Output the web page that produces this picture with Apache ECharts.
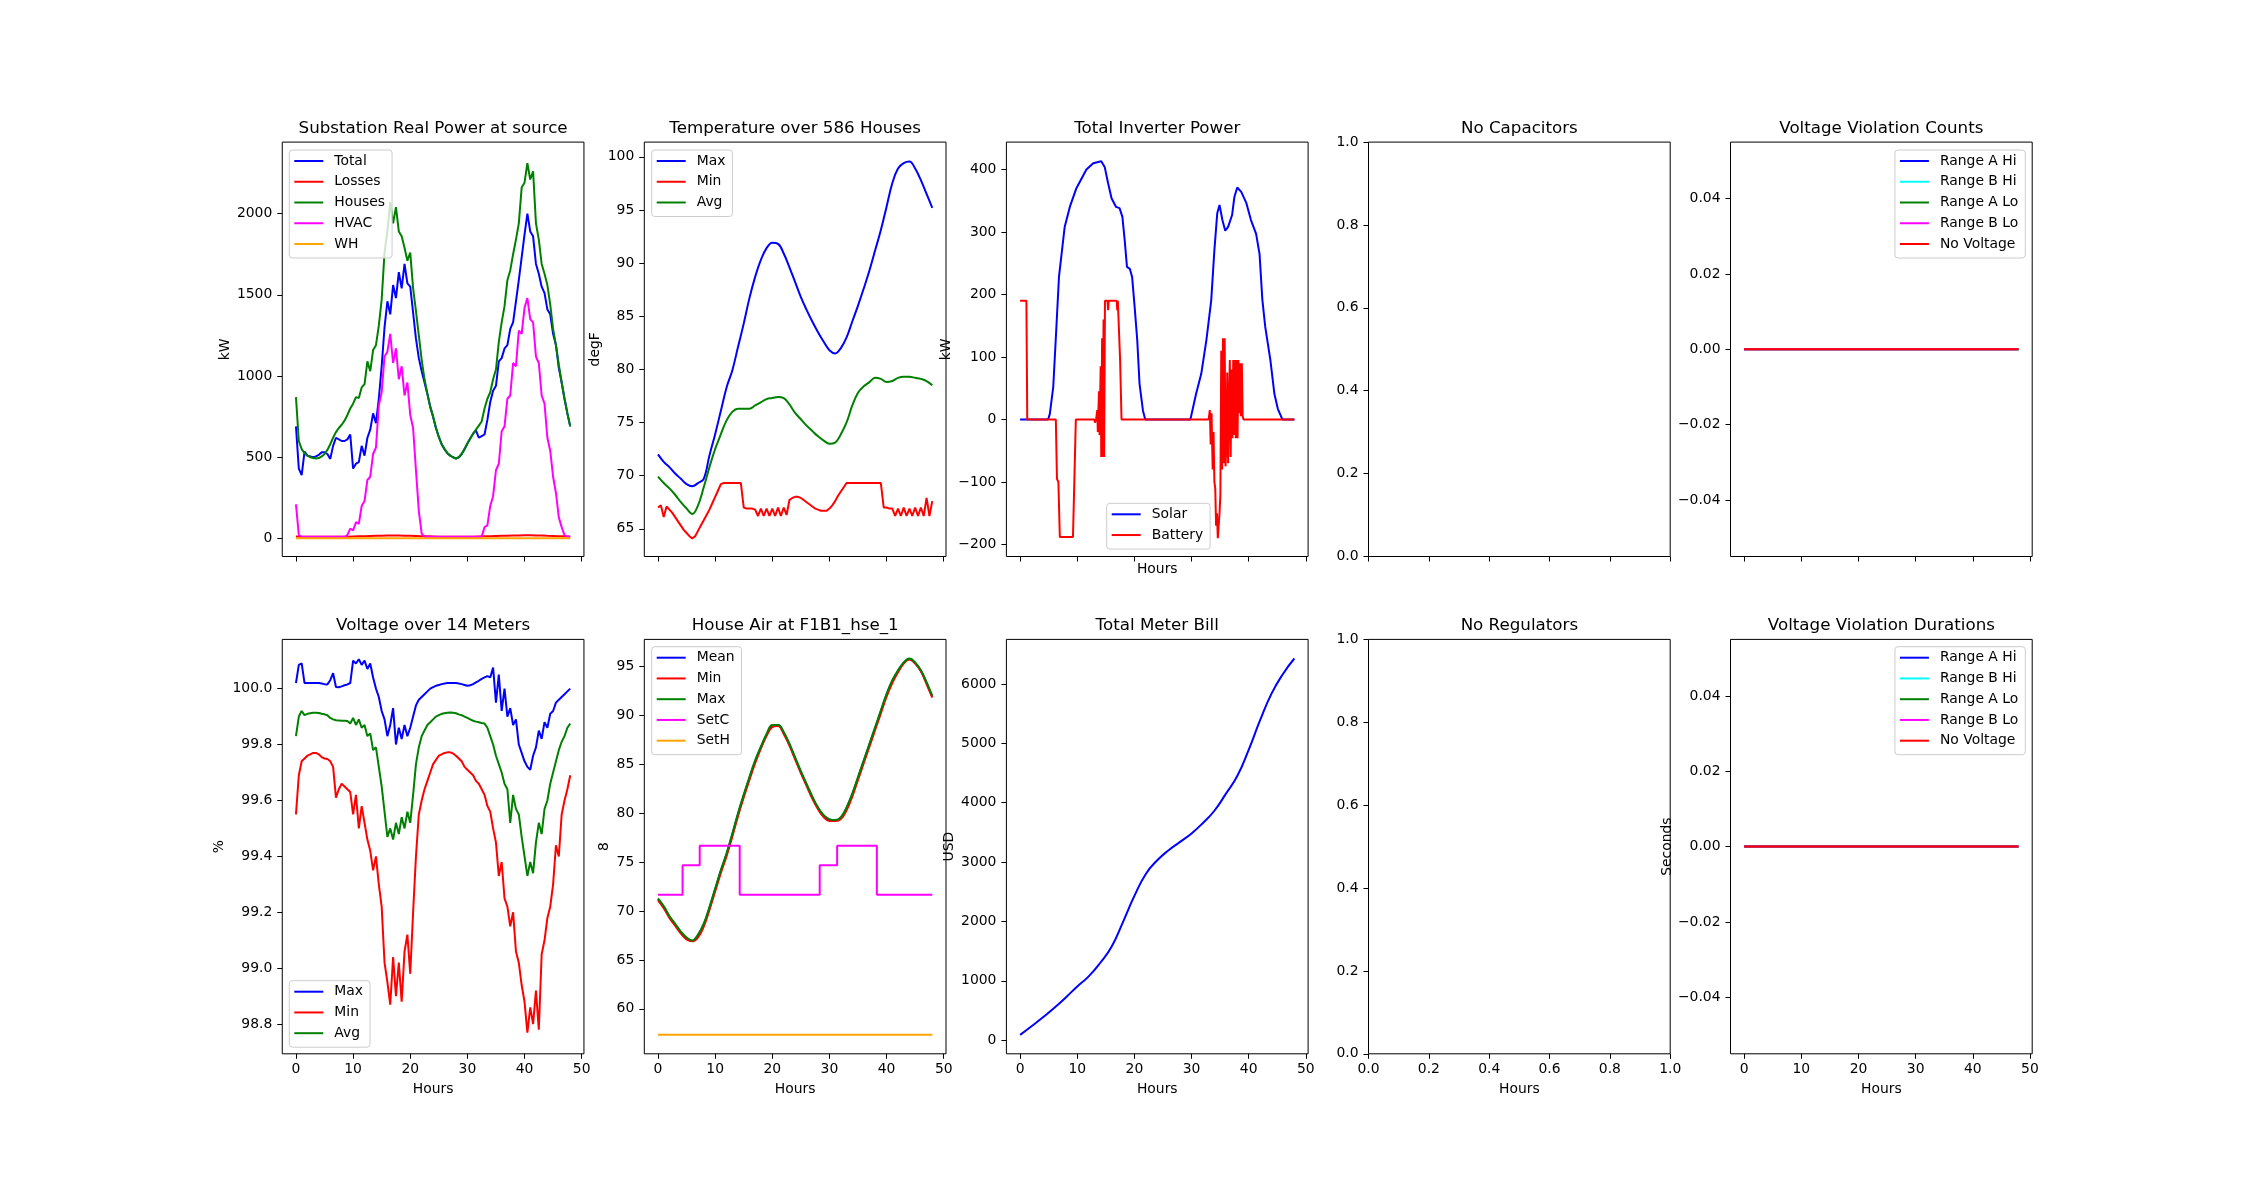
<!DOCTYPE html>
<html>
<head>
<meta charset="utf-8">
<title>Feeder summary</title>
<script src="https://cdn.jsdelivr.net/npm/echarts@6/dist/echarts.min.js"></script>
<style>
  html, body { margin: 0; padding: 0; background: #fff; }
  #chart { width: 2258px; height: 1184px; }
</style>
</head>
<body>
<div id="chart"></div>
<script>
  // ---- time grids (hours) ----
  var halfHours = [];
  for (var i = 0; i <= 96; i++) halfHours.push(i / 2);
  var hours = [];
  for (i = 0; i <= 48; i++) hours.push(i);
  var twoHours = [];
  for (i = 0; i <= 24; i++) twoHours.push(i * 2);

  // ---- Substation Real Power at source (kW, every 0.5 h) ----
  var subTotal = [690,430,390,535,510,505,500,505,515,530,530,520,490,570,620,610,600,600,610,640,
    430,460,470,570,510,620,670,770,710,860,1060,1300,1460,1380,1560,1480,1640,1540,1690,1570,
    1550,1390,1230,1110,1030,960,890,810,750,680,625,580,550,525,510,500,492,500,520,550,
    585,615,645,665,620,630,640,730,840,910,940,1090,1110,1170,1190,1290,1330,1460,1590,1730,
    1870,2000,1890,1860,1690,1630,1550,1510,1410,1380,1260,1190,1050,960,860,770,690];
  var subLosses = [12,11,10,10,10,10,10,10,10,11,12,13,14,15,16,17,18,18,18,17,16,15,14,13,12,
    11,10,10,10,10,10,11,12,13,14,15,16,17,18,19,20,20,19,18,16,15,14,13,12];
  var subHouses = [870,600,550,525,510,500,495,492,495,505,520,545,580,620,655,680,700,725,760,800,
    830,870,865,930,950,1090,1030,1160,1190,1310,1470,1760,1890,2070,1940,2040,1890,1860,1790,1710,
    1760,1540,1400,1250,1100,980,890,810,750,680,625,580,550,525,510,500,492,500,520,550,
    585,615,645,670,695,720,800,860,900,980,1040,1210,1330,1430,1590,1650,1750,1840,1940,2160,
    2190,2310,2210,2260,1940,1840,1690,1630,1560,1440,1290,1190,1070,960,860,770,690];
  var subHvac = [210,20,10,10,10,10,10,10,10,10,10,10,10,10,10,10,10,10,20,60,
    50,100,90,200,230,360,380,520,560,820,900,1120,1150,1260,1080,1170,980,1060,880,960,
    760,680,420,170,30,10,10,10,10,10,10,10,10,10,10,10,10,10,10,10,
    10,10,10,10,10,10,70,80,200,260,420,460,660,690,860,880,1080,1060,1280,1260,
    1420,1480,1350,1330,1120,1080,880,830,620,540,380,280,130,70,20,10,10];
  var subWh = [2,2,2,2,2,2,2,2,2,2,2,2,2,2,2,2,2,2,2,2,2,2,2,2,2,
    2,2,2,2,2,2,2,2,2,2,2,2,2,2,2,2,2,2,2,2,2,2,2,2];

  // ---- Temperature over 586 Houses (degF) ----
  var tempMax = [72.0,71.3,70.8,70.2,69.7,69.2,69.0,69.3,69.7,71.9,73.9,76.1,78.3,79.9,82.1,84.3,86.7,88.7,90.3,91.4,
    91.9,91.8,90.9,89.6,88.2,86.8,85.6,84.5,83.5,82.6,81.8,81.5,82.0,83.0,84.5,86.0,87.6,89.3,91.2,93.1,
    95.3,97.5,98.9,99.4,99.55,98.9,97.8,96.5,95.2];
  var tempAvg = [69.9,69.3,68.8,68.2,67.5,66.9,66.4,67.2,68.9,70.8,72.5,73.9,75.2,76.0,76.3,76.3,76.3,76.6,76.9,77.2,
    77.3,77.4,77.3,76.7,75.9,75.3,74.7,74.2,73.7,73.3,73.0,73.1,73.9,75.0,76.6,77.8,78.4,78.8,79.2,79.1,
    78.8,78.9,79.2,79.3,79.3,79.2,79.1,78.9,78.5];
  var tempMin = [67.0,67.2,66.1,67.1,66.8,66.5,66.1,65.7,65.3,64.9,64.6,64.3,64.1,64.3,64.8,65.3,65.8,66.3,66.8,67.4,
    68.0,68.6,69.2,69.3,69.3,69.3,69.3,69.3,69.3,69.3,67.0,66.9,66.9,66.9,66.8,66.2,66.9,66.2,66.9,66.2,
    66.9,66.2,67.0,66.2,67.0,66.3,67.7,67.9,68.0,68.0,67.9,67.7,67.5,67.3,67.1,66.9,66.8,66.7,66.7,66.7,
    66.9,67.2,67.6,68.1,68.5,68.9,69.3,69.3,69.3,69.3,69.3,69.3,69.3,69.3,69.3,69.3,69.3,69.3,69.3,67.0,
    67.0,66.9,66.9,66.2,66.9,66.2,67.0,66.2,66.9,66.2,67.0,66.2,67.0,66.2,67.9,66.2,67.6];

  // ---- Total Inverter Power (kW) as [hour, value] ----
  var solarKw = [[0,0],[4.9,0],[5.2,9],[5.8,52],[6.35,148],[6.8,228],[7.8,308],[8.7,340],[9.85,370],[11.6,400],
    [12.8,410],[14.2,413],[14.5,410],[14.8,404],[15.4,378],[16.0,354],[16.8,340],[17.4,338],[17.9,324],[18.3,287],
    [18.7,244],[19.2,241],[19.6,228],[20.0,185],[20.5,127],[20.9,57],[21.5,14],[21.9,0],[29.8,0],[30.8,41],
    [31.7,73],[32.6,127],[33.45,191],[34.0,271],[34.5,330],[34.9,343],[35.4,319],[35.9,302],[36.4,308],[37.1,327],
    [37.5,356],[38.0,371],[38.7,364],[39.6,346],[40.4,319],[41.3,297],[41.9,265],[42.4,191],[42.9,148],[43.8,95],
    [44.5,41],[45.1,17],[45.9,0],[48,0]];
  var batteryKw = [[0,190],[1.1,190],[1.25,0],[6.25,0],[6.45,-95],[6.7,-100],[6.95,-188],[9.25,-188],[9.5,-95],[9.75,0],
    [13.0,0],[13.1,-5],[13.3,0],[13.5,15],[13.6,-20],[13.8,45],[13.9,-25],[14.1,85],[14.2,-60],[14.35,130],
    [14.45,-60],[14.6,160],[14.7,-60],[14.85,190],[15.3,190],[15.4,175],[15.5,190],[16.9,190],[17.0,175],[17.1,190],
    [17.4,190],[17.5,95],[17.75,0],[33.0,0],[33.2,15],[33.35,-40],[33.5,10],[33.7,-80],[33.85,-20],[34.0,-100],
    [34.15,-110],[34.3,-170],[34.45,-150],[34.6,-190],[34.75,-190],[34.9,-150],[35.05,-120],[35.2,110],[35.35,-80],[35.5,130],
    [35.65,-70],[35.8,130],[35.95,-75],[36.1,-40],[36.25,75],[36.4,-70],[36.55,20],[36.7,95],[36.85,-60],[37.0,80],
    [37.15,-30],[37.3,95],[37.45,-25],[37.6,95],[37.75,-30],[37.9,95],[38.05,-30],[38.2,95],[38.35,10],[38.5,90],
    [38.65,5],[38.8,90],[38.95,5],[39.1,0],[48,0]];

  // ---- Voltage over 14 Meters (%, every 0.5 h) ----
  var voltMax = [100.02,100.085,100.09,100.02,100.02,100.02,100.02,100.02,100.02,100.018,100.016,100.015,100.03,100.055,100.006,100.005,100.008,100.012,100.015,100.02,
    100.10,100.09,100.105,100.085,100.10,100.07,100.09,100.04,100.0,99.97,99.92,99.89,99.83,99.87,99.93,99.80,99.86,99.82,99.87,99.83,
    99.86,99.90,99.94,99.96,99.97,99.98,99.99,100.0,100.005,100.01,100.013,100.016,100.018,100.02,100.02,100.02,100.02,100.018,100.016,100.013,
    100.01,100.012,100.016,100.022,100.028,100.035,100.04,100.045,100.04,100.075,99.95,100.05,99.92,100.0,99.90,99.93,99.87,99.89,99.80,99.77,
    99.74,99.72,99.71,99.76,99.79,99.85,99.82,99.88,99.86,99.91,99.92,99.95,99.96,99.97,99.98,99.99,100.0];
  var voltMin = [99.55,99.69,99.74,99.75,99.76,99.765,99.77,99.77,99.765,99.755,99.75,99.748,99.74,99.72,99.61,99.64,99.66,99.65,99.64,99.63,
    99.55,99.62,99.50,99.58,99.52,99.46,99.42,99.35,99.40,99.30,99.22,99.02,98.95,98.87,99.04,98.90,99.02,98.88,99.06,99.12,
    98.98,99.20,99.40,99.55,99.60,99.64,99.67,99.70,99.73,99.745,99.76,99.765,99.77,99.772,99.772,99.768,99.76,99.75,99.74,99.72,
    99.71,99.70,99.69,99.67,99.66,99.64,99.62,99.58,99.56,99.50,99.45,99.33,99.38,99.25,99.22,99.15,99.20,99.06,99.02,98.94,
    98.88,98.77,98.86,98.80,98.92,98.78,99.05,99.10,99.18,99.22,99.30,99.44,99.40,99.55,99.60,99.64,99.69];
  var voltAvg = [99.83,99.90,99.92,99.905,99.91,99.912,99.914,99.914,99.913,99.91,99.908,99.905,99.895,99.89,99.887,99.886,99.885,99.885,99.884,99.875,
    99.895,99.87,99.89,99.86,99.87,99.83,99.84,99.78,99.79,99.72,99.65,99.56,99.47,99.50,99.46,99.52,99.48,99.54,99.50,99.56,
    99.52,99.62,99.73,99.79,99.83,99.85,99.87,99.88,99.89,99.90,99.905,99.91,99.912,99.914,99.915,99.914,99.912,99.908,99.905,99.90,
    99.895,99.89,99.885,99.882,99.88,99.877,99.875,99.86,99.83,99.80,99.76,99.73,99.70,99.66,99.64,99.52,99.62,99.57,99.55,99.47,
    99.40,99.33,99.38,99.34,99.45,99.52,99.48,99.57,99.60,99.66,99.70,99.74,99.78,99.81,99.83,99.86,99.875];

  // ---- House Air at F1B1_hse_1 (hourly) ----
  var airMean = [71.2,70.4,69.4,68.6,67.8,67.2,66.95,67.5,68.6,70.3,72.2,74.1,75.8,77.8,79.9,81.8,83.6,85.3,86.7,88.0,
    88.9,89.0,88.2,87.0,85.6,84.2,82.9,81.6,80.5,79.7,79.3,79.25,79.5,80.5,81.9,83.6,85.3,87.0,88.7,90.4,
    92.1,93.5,94.5,95.35,95.75,95.35,94.55,93.3,91.9];
  var airMin = [71.1,70.3,69.3,68.5,67.7,67.1,66.9,67.3,68.4,70.1,72.0,73.9,75.6,77.6,79.7,81.6,83.4,85.1,86.6,87.9,
    88.8,88.9,88.1,86.9,85.5,84.1,82.8,81.5,80.4,79.6,79.2,79.2,79.4,80.3,81.7,83.4,85.1,86.8,88.5,90.2,
    91.9,93.3,94.4,95.3,95.7,95.3,94.5,93.2,91.8];
  var airMax = [71.3,70.5,69.5,68.7,67.9,67.3,67.0,67.6,68.7,70.4,72.3,74.2,75.9,77.9,80.0,81.9,83.7,85.4,86.8,88.1,
    89.0,89.0,88.3,87.1,85.7,84.3,83.0,81.7,80.6,79.8,79.4,79.3,79.6,80.6,82.0,83.7,85.4,87.1,88.8,90.5,
    92.2,93.6,94.6,95.4,95.8,95.4,94.6,93.4,92.0];
  var setCool = [[0,71.67],[4.3,71.67],[4.3,74.69],[7.3,74.69],[7.3,76.67],[14.3,76.67],[14.3,71.67],[28.3,71.67],
    [28.3,74.69],[31.35,74.69],[31.35,76.67],[38.3,76.67],[38.3,71.67],[48,71.67]];
  var setHeat = [[0,57.35],[48,57.35]];

  // ---- Total Meter Bill (USD, every 2 h) ----
  var meterBill = [89,235,385,545,720,905,1075,1300,1575,1990,2430,2800,3030,3200,3340,3483,3660,3865,4150,4450,
    4890,5390,5838,6170,6430];

  // ---- Voltage violations (none) ----
  var violHours = [0, 48];
  var violCounts = [0, 0];
  var violSeconds = [0, 0];

  // ---- tick values ----
  var hourTicks = [0, 10, 20, 30, 40, 50];
  var unitTicks = [0, 0.2, 0.4, 0.6, 0.8, 1];
  var powerTicks = [0, 500, 1000, 1500, 2000];
  var tempTicks = [65, 70, 75, 80, 85, 90, 95, 100];
  var invTicks = [-200, -100, 0, 100, 200, 300, 400];
  var violTicks = [-0.04, -0.02, 0, 0.02, 0.04];
  var voltTicks = [98.8, 99.0, 99.2, 99.4, 99.6, 99.8, 100.0];
  var airTicks = [60, 65, 70, 75, 80, 85, 90, 95];
  var billTicks = [0, 1000, 2000, 3000, 4000, 5000, 6000];

  // ---- layout ----
  var FONT = 'DejaVu Sans';
  var colLeft = [282.25, 644.3, 1006.4, 1368.5, 1730.5];
  var rowTop = [142.1, 639.4];
  var plotW = 301.7, plotH = 414.4;

  var panels = [
    {title: 'Substation Real Power at source', ylabel: 'kW', ylx: 225, ymin: -111, ymax: 2440, yt: powerTicks, dec: 0},
    {title: 'Temperature over 586 Houses', ylabel: 'degF', ylx: 595.6, ymin: 62.39, ymax: 101.38, yt: tempTicks, dec: 0},
    {title: 'Total Inverter Power', ylabel: 'kW', ylx: 946, ymin: -219.2, ymax: 443.7, yt: invTicks, dec: 0, hours: 569.1},
    {title: 'No Capacitors', unit: true, ymin: 0, ymax: 1, yt: unitTicks, dec: 1},
    {title: 'Voltage Violation Counts', ymin: -0.055, ymax: 0.055, yt: violTicks, dec: 2},
    {title: 'Voltage over 14 Meters', ylabel: '%', ylx: 219.8, ymin: 98.694, ymax: 100.176, yt: voltTicks, dec: 1, hours: 1089.8},
    {title: 'House Air at F1B1_hse_1', ylabel: '8', ylx: 604, ymin: 55.41, ymax: 97.76, yt: airTicks, dec: 0, hours: 1089.8},
    {title: 'Total Meter Bill', ylabel: 'USD', ylx: 949, ymin: -230, ymax: 6752, yt: billTicks, dec: 0, hours: 1089.8},
    {title: 'No Regulators', unit: true, ymin: 0, ymax: 1, yt: unitTicks, dec: 1, hours: 1089.8},
    {title: 'Voltage Violation Durations', ylabel: 'Seconds', ylx: 1667, ymin: -0.055, ymax: 0.055, yt: violTicks, dec: 2, hours: 1089.8}
  ];

  function fmt(v, dec) {
    var s = Number(v).toFixed(dec);
    return s.charAt(0) === '-' ? '\u2212' + s.slice(1) : s;
  }
  function zip(xs, ys) {
    return xs.map(function (x, k) { return [x, ys[k]]; });
  }

  var grids = [], xAxes = [], yAxes = [], texts = [];
  panels.forEach(function (p, gi) {
    var row = gi < 5 ? 0 : 1, col = gi % 5;
    var left = colLeft[col], top = rowTop[row];
    var xt = p.unit ? unitTicks : hourTicks;
    grids.push({left: left, top: top, width: plotW, height: plotH, show: true,
      borderColor: '#000', borderWidth: 1, backgroundColor: 'transparent', containLabel: false, outerBoundsMode: 'none'});
    xAxes.push({type: 'value', gridIndex: gi,
      min: p.unit ? 0 : -2.4, max: p.unit ? 1 : 50.4,
      splitLine: {show: false}, axisLine: {show: false, onZero: false},
      axisTick: {show: true, length: 5, lineStyle: {color: '#000', width: 1}, customValues: xt},
      axisLabel: {show: row === 1, customValues: xt, margin: 9, color: '#000', fontFamily: FONT, fontSize: 13.9,
        formatter: function (v) { return fmt(v, p.unit ? 1 : 0); }}
    });
    yAxes.push({type: 'value', gridIndex: gi, min: p.ymin, max: p.ymax,
      splitLine: {show: false}, axisLine: {show: false, onZero: false},
      axisTick: {show: true, length: 5, lineStyle: {color: '#000', width: 1}, customValues: p.yt},
      axisLabel: {show: true, customValues: p.yt, margin: 10, color: '#000', fontFamily: FONT, fontSize: 13.9,
        formatter: function (v) { return fmt(v, p.dec); }}
    });
    texts.push({type: 'text', x: left + plotW / 2, y: top - 13.6, silent: true,
      style: {text: p.title, font: '16.7px "' + FONT + '"', fill: '#000',
        textAlign: 'center', textVerticalAlign: 'middle', align: 'center', verticalAlign: 'middle'}});
    if (p.ylabel) {
      texts.push({type: 'text', x: p.ylx, y: top + plotH / 2, rotation: Math.PI / 2, silent: true,
        style: {text: p.ylabel, font: '13.9px "' + FONT + '"', fill: '#000',
          textAlign: 'center', textVerticalAlign: 'middle', align: 'center', verticalAlign: 'middle'}});
    }
    if (p.hours) {
      texts.push({type: 'text', x: left + plotW / 2, y: p.hours, silent: true,
        style: {text: 'Hours', font: '13.9px "' + FONT + '"', fill: '#000',
          textAlign: 'center', textVerticalAlign: 'middle', align: 'center', verticalAlign: 'middle'}});
    }
  });

  var series = [];
  function line(name, data, color, gi, smooth) {
    series.push({name: name, type: 'line', data: data, xAxisIndex: gi, yAxisIndex: gi,
      showSymbol: false, symbol: 'none', smooth: smooth || false,
      color: color, lineStyle: {width: 2, color: color}, itemStyle: {color: color},
      animation: false, emphasis: {disabled: true}});
  }
  var BLUE = '#0000ff', RED = '#ff0000', GREEN = '#008000', MAGENTA = '#ff00ff', ORANGE = '#ffa500', CYAN = '#00ffff';

  line('Total', zip(halfHours, subTotal), BLUE, 0);
  line('Losses', zip(hours, subLosses), RED, 0);
  line('Houses', zip(halfHours, subHouses), GREEN, 0);
  line('HVAC', zip(halfHours, subHvac), MAGENTA, 0);
  line('WH', zip(hours, subWh), ORANGE, 0);

  line('Max|t', zip(hours, tempMax), BLUE, 1, 0.4);
  line('Min|t', zip(halfHours, tempMin), RED, 1);
  line('Avg|t', zip(hours, tempAvg), GREEN, 1, 0.4);

  line('Solar', solarKw, BLUE, 2);
  line('Battery', batteryKw, RED, 2);

  var violNames = ['Range A Hi', 'Range B Hi', 'Range A Lo', 'Range B Lo', 'No Voltage'];
  var violColors = [BLUE, CYAN, GREEN, MAGENTA, RED];
  violNames.forEach(function (n, k) { line(n + '|c', zip(violHours, violCounts), violColors[k], 4); });

  line('Max|v', zip(halfHours, voltMax), BLUE, 5);
  line('Min|v', zip(halfHours, voltMin), RED, 5);
  line('Avg|v', zip(halfHours, voltAvg), GREEN, 5);

  line('Mean|a', zip(hours, airMean), BLUE, 6, 0.4);
  line('Min|a', zip(hours, airMin), RED, 6, 0.4);
  line('Max|a', zip(hours, airMax), GREEN, 6, 0.4);
  line('SetC', setCool, MAGENTA, 6);
  line('SetH', setHeat, ORANGE, 6);

  line('Bill', zip(twoHours, meterBill), BLUE, 7, 0.5);

  violNames.forEach(function (n, k) { line(n + '|d', zip(violHours, violSeconds), violColors[k], 9); });

  function legend(names, pos) {
    var l = {orient: 'vertical', align: 'left', icon: 'rect', itemWidth: 29, itemHeight: 2, itemGap: 4.75,
      selectedMode: false, padding: [3, 7, 6, 5], backgroundColor: 'rgba(255,255,255,0.8)',
      borderColor: '#cccccc', borderWidth: 1, borderRadius: 3, itemStyle: {borderWidth: 0},
      textStyle: {fontFamily: FONT, fontSize: 13.9, color: '#000', lineHeight: 16, padding: [0, 0, 0, 6]},
      formatter: function (n) { return n.split('|')[0]; }, data: names, z: 10};
    for (var k in pos) l[k] = pos[k];
    return l;
  }
  var legends = [
    legend(['Total', 'Losses', 'Houses', 'HVAC', 'WH'], {left: 289.3, top: 150}),
    legend(['Max|t', 'Min|t', 'Avg|t'], {left: 651.7, top: 150}),
    legend(['Solar', 'Battery'], {left: 1106.7, top: 503.3}),
    legend(violNames.map(function (n) { return n + '|c'; }), {right: 232.7, top: 150}),
    legend(['Max|v', 'Min|v', 'Avg|v'], {left: 289.3, top: 980.7}),
    legend(['Mean|a', 'Min|a', 'Max|a', 'SetC', 'SetH'], {left: 651.7, top: 646.7}),
    legend(violNames.map(function (n) { return n + '|d'; }), {right: 232.7, top: 646.7})
  ];

  var chart = echarts.init(document.getElementById('chart'), null, {renderer: 'canvas'});
  chart.setOption({
    animation: false,
    backgroundColor: '#fff',
    textStyle: {fontFamily: FONT},
    grid: grids,
    xAxis: xAxes,
    yAxis: yAxes,
    legend: legends,
    graphic: {elements: texts},
    series: series
  });
</script>
</body>
</html>
